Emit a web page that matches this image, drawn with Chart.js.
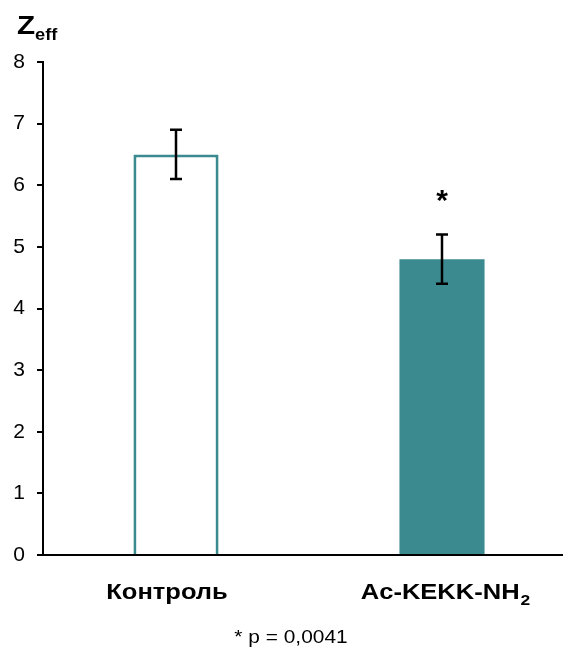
<!DOCTYPE html>
<html>
<head>
<meta charset="utf-8">
<script src="https://cdn.jsdelivr.net/npm/chart.js@4/dist/chart.umd.min.js"></script>
<style>
  html, body { margin: 0; padding: 0; background: #fff; overflow: hidden; }
  #wrap { width: 575px; height: 648px; }
</style>
</head>
<body>
<div id="wrap"><canvas id="myChart"></canvas></div>
<script>
// data
var categories = ['Контроль', 'Ac-KEKK-NH'];
var labelSubs = ['', '2'];
var zeffValues = [6.5, 4.8];
var errLow = [6.1, 4.4];
var errHigh = [6.9, 5.2];
var marks = ['', '*'];
var yTicks = [0, 1, 2, 3, 4, 5, 6, 7, 8];

var teal = '#3b8a8f';
var font = '"Liberation Sans", Arial, sans-serif';

// text that is a bit wider than the font, like the original
function wideText(c, txt, x, y, sx) {
  c.save();
  c.translate(x, y);
  c.scale(sx, 1);
  c.fillText(txt, 0, 0);
  c.restore();
}

// error bars, asterisk, axis labels, title, footnote
var extras = {
  id: 'extras',
  afterDatasetsDraw: function (chart) {
    var c = chart.ctx;
    var x = chart.scales.x;
    var y = chart.scales.y;
    var sx = 1.16;
    c.save();
    c.strokeStyle = '#000';
    c.fillStyle = '#000';
    c.lineWidth = 2.5;
    for (var i = 0; i < zeffValues.length; i++) {
      var px = x.getPixelForValue(i);
      var lo = y.getPixelForValue(errLow[i]);
      var hi = y.getPixelForValue(errHigh[i]);
      c.beginPath();
      c.moveTo(px, lo); c.lineTo(px, hi);
      c.moveTo(px - 6, lo); c.lineTo(px + 6, lo);
      c.moveTo(px - 6, hi); c.lineTo(px + 6, hi);
      c.stroke();
      if (marks[i]) {
        c.font = 'bold 30px ' + font;
        c.textAlign = 'center';
        c.textBaseline = 'middle';
        c.fillText(marks[i], px, hi - 33);
      }
      // category label with optional subscript
      c.textAlign = 'left';
      c.textBaseline = 'alphabetic';
      c.font = 'bold 22px ' + font;
      var w1 = c.measureText(categories[i]).width * sx;
      c.font = 'bold 15px ' + font;
      var w2 = labelSubs[i] ? c.measureText(labelSubs[i]).width * sx : 0;
      var nudge = i === 0 ? -9 : 3;
      var startX = px - (w1 + w2) / 2 + nudge;
      c.font = 'bold 22px ' + font;
      wideText(c, categories[i], startX, 599, sx);
      if (labelSubs[i]) {
        c.font = 'bold 15px ' + font;
        wideText(c, labelSubs[i], startX + w1 + 1, 605, sx);
      }
    }
    // Z_eff title
    c.textAlign = 'left';
    c.font = 'bold 26px ' + font;
    wideText(c, 'Z', 17, 34, 1.14);
    c.font = 'bold 16px ' + font;
    wideText(c, 'eff', 35, 40, 1.14);
    // footnote
    c.font = '19px ' + font;
    c.textAlign = 'center';
    wideText(c, '* p = 0,0041', 291, 643, 1.1);
    c.restore();
  }
};

const ctx = document.getElementById('myChart');

const chart = new Chart(ctx, {
  type: 'bar',
  data: {
    labels: categories,
    datasets: [{
      data: zeffValues,
      backgroundColor: ['#ffffff', teal],
      borderColor: teal,
      borderWidth: [3, 0],
      barPercentage: 0.32,
      categoryPercentage: 1
    }]
  },
  options: {
    responsive: true,
    maintainAspectRatio: false,
    animation: false,
    layout: { padding: { top: 62, left: 0, right: 0, bottom: 0 } },
    plugins: { legend: { display: false }, tooltip: { enabled: false } },
    scales: {
      x: {
        ticks: { display: false },
        grid: { display: false },
        border: { color: '#000', width: 2 },
        afterFit: function (s) { s.height = 93; }
      },
      y: {
        min: 0,
        max: 8,
        afterBuildTicks: function (s) {
          s.ticks = yTicks.map(function (v) { return { value: v }; });
        },
        ticks: {
          color: '#000',
          font: { family: font, size: 21 },
          padding: 12
        },
        grid: {
          drawOnChartArea: false,
          drawTicks: true,
          tickLength: 6,
          color: '#000',
          lineWidth: 2
        },
        border: { color: '#000', width: 2 },
        afterFit: function (s) { s.width = 43; }
      }
    }
  },
  plugins: [extras]
});
</script>
</body>
</html>
